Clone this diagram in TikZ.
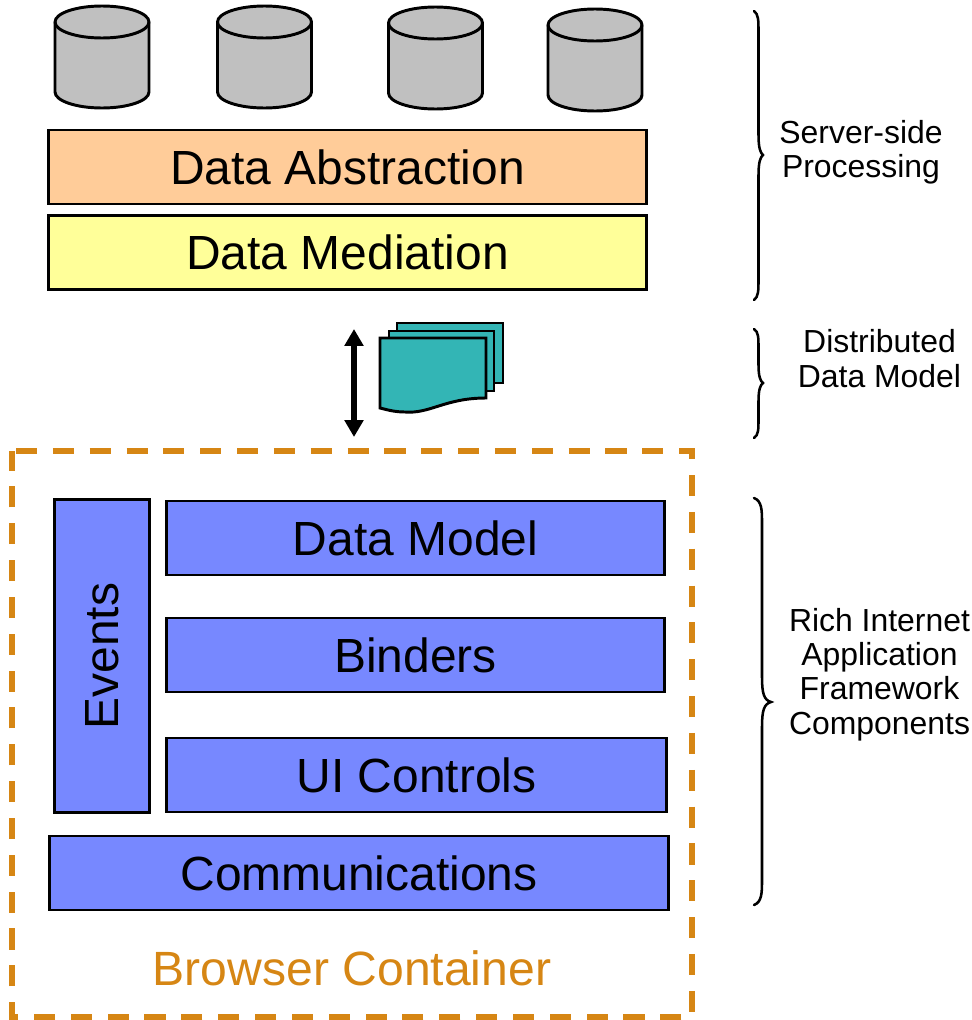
\documentclass[tikz,border=0pt]{standalone}
\usepackage{fontspec}
\setmainfont{Liberation Sans}
\usepackage{xcolor}
\definecolor{abstr}{HTML}{FFCC99}
\definecolor{medi}{HTML}{FFFF99}
\definecolor{comp}{HTML}{7788FF}
\definecolor{doc}{HTML}{33B5B5}
\definecolor{dbgray}{HTML}{C0C0C0}
\definecolor{cont}{HTML}{D68614}
\usetikzlibrary{arrows.meta}
\tikzset{
layer/.style={draw=black, line width=2.1pt, inner sep=0pt, font=\fontsize{34.1}{40}\selectfont},
side/.style={align=center, inner sep=0pt, font=\fontsize{22.7}{24.5}\selectfont},
bracket/.style={line width=1.8pt, line cap=round},
sheet/.style={draw=black, line width=2.1pt, line join=miter, fill=doc}
}

\begin{document}
\begin{tikzpicture}[x=0.025cm, y=-0.025cm]
\useasboundingbox (0,0) rectangle (972,1020);
\foreach \x/\y in {102/5, 264.5/5, 435.5/6, 595/8}{
\draw[line width=2.1pt, fill=dbgray] (\x-47,\y+17) -- (\x-47,\y+87) arc[start angle=180, end angle=0, x radius=47, y radius=16] -- (\x+47,\y+17) arc[start angle=0, end angle=-180, x radius=47, y radius=16] -- cycle;
\draw[line width=2.1pt] (\x-47,\y+17) arc[start angle=180, end angle=0, x radius=47, y radius=16];
}
\foreach \name/\x/\y/\w/\col/\txt in {abstraction/347.5/167/14.95cm/abstr/Data Abstraction, mediation/347.5/252.5/14.95cm/medi/Data Mediation, model/415.5/538/12.45cm/comp/Data Model, binders/415.5/655/12.45cm/comp/Binders, controls/416.5/775/12.5cm/comp/UI Controls, communications/359/873/15.45cm/comp/Communications}{
\node[layer, fill=\col, minimum width=\w, minimum height=1.85cm] (\name) at (\x,\y) {\txt};
}
\node[layer, fill=comp, rotate=90, minimum width=7.8cm, minimum height=2.375cm] (events) at (102,656) {Events};
\draw[cont, line width=3.7pt, dash pattern=on 15pt off 11.2pt] (16,451) -- (692,451) -- (692,1017) -- (12,1017) -- (12,451);
\node[text=cont, inner sep=0pt, font=\fontsize{34.2}{40}\selectfont] (browser) at (352,968) {Browser Container};
% documents
\draw[sheet] (397,323) -- (503,323) -- (503,383) -- (397,383) -- cycle;
\draw[sheet] (389,331) -- (494,331) -- (494,391) -- (389,391) -- cycle;
\draw[sheet] (380,338) -- (486,338) -- (486,398) .. controls (445,398) and (430,414) .. (405,412) .. controls (395,412) and (388,410) .. (380,408) -- cycle;
\coordinate (uparrow) at (354,329);
\coordinate (downarrow) at (354,437);
\draw[{Triangle[length=12pt, width=13pt]}-{Triangle[length=12pt, width=13pt]}, line width=4.2pt] (uparrow) -- (downarrow);
% braces
\foreach \name/\ya/\ym/\yb/\a/\b/\c in {server/11/155/300/4.5/9/20, distributed/329/383/438/4.5/9/18, rich/498/702/905/8/17/25}{
\coordinate (\name a) at (754,\ya);
\coordinate (\name b) at (754,\yb);
\draw[bracket] (\name a) .. controls (754+\a,\ya+3) and (754+\a,\ya+\c/2) .. (754+\a,\ya+\c) -- (754+\a,\ym-\c) .. controls (754+\a,\ym-\c/3) and (754+\a+2,\ym-2) .. (754+\b,\ym) .. controls (754+\a+2,\ym+2) and (754+\a,\ym+\c/3) .. (754+\a,\ym+\c) -- (754+\a,\yb-\c) .. controls (754+\a,\yb-\c/2) and (754+\a,\yb-3) .. (\name b);
}
\node[side] (serverlabel) at (861,152) {Server-side\\Processing};
\node[side] (distlabel) at (879.5,358.5) {Distributed\\Data Model};
\node[side] (richlabel) at (879.5,674.5) {Rich Internet\\Application\\Framework\\Components};
\end{tikzpicture}
\end{document}
